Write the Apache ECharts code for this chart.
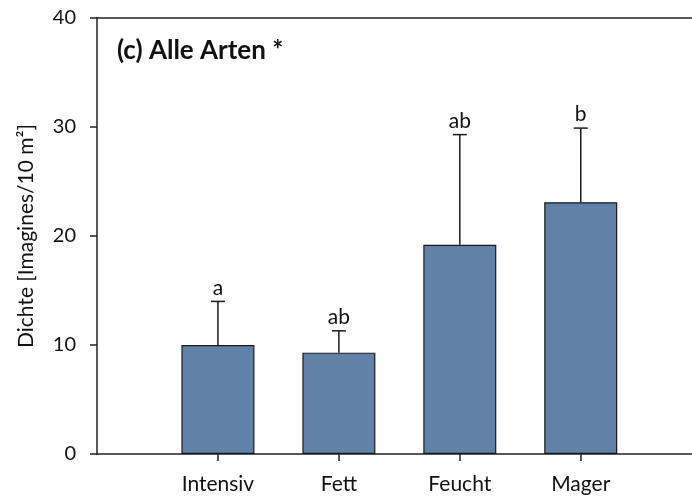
<!DOCTYPE html>
<html>
<head>
<meta charset="utf-8">
<script src="https://cdn.jsdelivr.net/npm/echarts@6/dist/echarts.min.js"></script>
<style>
  html, body { margin: 0; padding: 0; background: #fff; }
  #chart { width: 692px; height: 496px; }
</style>
</head>
<body>
<div id="chart"></div>
<script>
// Daten
var categories = ['Intensiv', 'Fett', 'Feucht', 'Mager'];
var means = [10.0, 9.3, 19.2, 23.1];
var errUpper = [14.0, 11.3, 29.3, 29.9];
var letters = ['a', 'ab', 'ab', 'b'];
var yMin = 0, yMax = 40, yStep = 10;

var FONT = 'Lato';
var INK = '#111';
var LINE = '#222';

// Positionen 1..4 auf einer Zahlenachse, rechts wird die Achse abgeschnitten
var xPos = categories.map(function (c, i) { return i + 1; });
var xMax = 4.92;

var barData = categories.map(function (c, i) { return [xPos[i], means[i]]; });
var errData = categories.map(function (c, i) { return [xPos[i], means[i], errUpper[i]]; });

var chart = echarts.init(document.getElementById('chart'));

var lineSt = { color: LINE, width: 1.5 };

chart.setOption({
  animation: false,
  title: {
    text: '(c) Alle Arten *',
    left: 112,
    top: 33,
    textStyle: { fontFamily: FONT, fontSize: 26, fontWeight: 'bold', color: INK }
  },
  grid: { left: 97, top: 18, bottom: 42, right: 0 },
  xAxis: [
    {
      type: 'value',
      min: 0, max: xMax, interval: 1,
      splitLine: { show: false },
      axisLine: { lineStyle: lineSt },
      axisTick: { show: true, length: 7, lineStyle: lineSt, customValues: xPos },
      axisLabel: {
        margin: 20,
        customValues: xPos,
        fontFamily: FONT, fontSize: 21, color: INK,
        formatter: function (v) { return categories[Math.round(v) - 1] || ''; }
      }
    },
    {
      // nur die obere Rahmenlinie
      type: 'value',
      position: 'top',
      min: 0, max: xMax,
      splitLine: { show: false },
      axisLine: { show: true, lineStyle: lineSt },
      axisTick: { show: false },
      axisLabel: { show: false }
    }
  ],
  yAxis: {
    type: 'value',
    min: yMin, max: yMax, interval: yStep,
    name: 'Dichte [Imagines/10 m²]',
    nameLocation: 'middle',
    nameGap: 60,
    nameTextStyle: { fontFamily: FONT, fontSize: 21, color: INK },
    splitLine: { show: false },
    axisLine: { show: true, lineStyle: lineSt },
    axisTick: { show: true, length: 7, lineStyle: lineSt },
    axisLabel: { margin: 21, fontFamily: FONT, fontSize: 20, color: INK }
  },
  series: [
    {
      type: 'bar',
      xAxisIndex: 0,
      data: barData,
      barWidth: 73,
      itemStyle: { color: '#6181a9', borderColor: '#1a1a1a', borderWidth: 1.2 }
    },
    {
      type: 'custom',
      xAxisIndex: 0,
      data: errData,
      z: 3,
      renderItem: function (params, api) {
        var x = api.value(0);
        var p0 = api.coord([x, api.value(1)]);
        var p1 = api.coord([x, api.value(2)]);
        var cap = 7;
        var st = { stroke: '#1a1a1a', lineWidth: 1.5 };
        return {
          type: 'group',
          children: [
            { type: 'line', shape: { x1: p0[0], y1: p0[1], x2: p1[0], y2: p1[1] }, style: st },
            { type: 'line', shape: { x1: p1[0] - cap, y1: p1[1], x2: p1[0] + cap, y2: p1[1] }, style: st },
            {
              type: 'text',
              x: p1[0], y: p1[1] - 3,
              style: {
                text: letters[params.dataIndex],
                textAlign: 'center', textVerticalAlign: 'bottom',
                fontFamily: FONT, fontSize: 21, fill: INK
              }
            }
          ]
        };
      }
    }
  ]
});
</script>
</body>
</html>
